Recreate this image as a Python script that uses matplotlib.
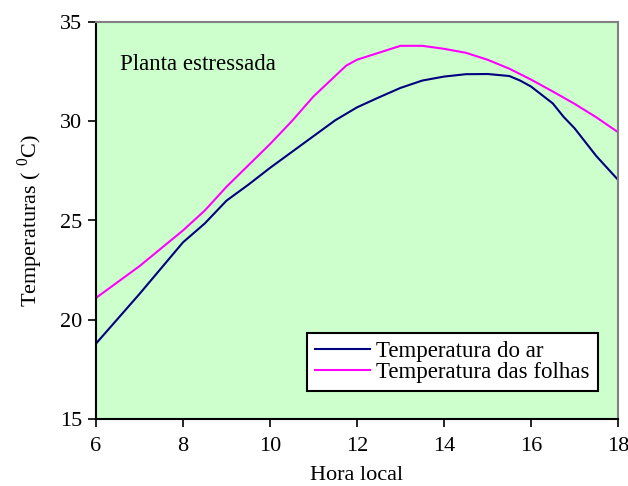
import numpy as np
import matplotlib
matplotlib.use("Agg")
import matplotlib.pyplot as plt

# Dados
hora_ar = [6, 6.5, 7, 7.5, 8, 8.5, 9, 9.5, 10, 10.5, 11, 11.5, 12, 12.5, 13, 13.5,
           14, 14.5, 15, 15.5, 15.75, 16, 16.5, 16.75, 17, 17.5, 18]
temp_ar = [18.8, 20.05, 21.3, 22.6, 23.9, 24.85, 26.0, 26.8, 27.65, 28.45, 29.25, 30.05,
           30.7, 31.2, 31.68, 32.05, 32.25, 32.37, 32.38, 32.28, 32.05, 31.75, 30.9, 30.22,
           29.65, 28.25, 27.05]

hora_folha = [6, 7, 8, 8.5, 9, 10, 10.5, 11, 11.75, 12, 12.5, 13, 13.5, 14, 14.5, 15,
              15.5, 16, 16.5, 17, 17.5, 18]
temp_folha = [21.1, 22.7, 24.5, 25.5, 26.7, 28.85, 30.0, 31.25, 32.8, 33.1, 33.45, 33.8,
              33.8, 33.65, 33.45, 33.1, 32.65, 32.1, 31.5, 30.88, 30.2, 29.45]

plt.rcParams["font.family"] = ["Liberation Serif", "DejaVu Serif"]
plt.rcParams["mathtext.fontset"] = "custom"
plt.rcParams["mathtext.rm"] = "Liberation Serif"
plt.rcParams["font.size"] = 16

fig = plt.figure(figsize=(6.28, 4.86), dpi=100)
ax = fig.add_axes([96 / 628, 1 - 419 / 486, 522 / 628, 397 / 486])
ax.set_facecolor("#ccffcc")

ax.plot(hora_ar, temp_ar, color="#000080", linewidth=1.5, label="Temperatura do ar")
ax.plot(hora_folha, temp_folha, color="#ff00ff", linewidth=1.5, label="Temperatura das folhas")

ax.set_xlim(6, 18)
ax.set_ylim(15, 35)
ax.set_xticks(range(6, 19, 2))
ax.set_yticks(range(15, 36, 5))
ax.tick_params(direction="out", length=6, width=1.2, color="black", pad=7)
ax.tick_params(axis="y", pad=4)

for s in ["left", "bottom"]:
    ax.spines[s].set_color("black")
    ax.spines[s].set_linewidth(1.5)
for s in ["top", "right"]:
    ax.spines[s].set_color("#808080")
    ax.spines[s].set_linewidth(1.5)

ax.set_xlabel("Hora local", labelpad=7)
ax.set_ylabel("Temperaturas ( $^{0}$C)", labelpad=11)

ax.text(6.55, 32.58, "Planta estressada", va="baseline", ha="left", fontsize=16.5)

leg = ax.legend(loc="lower right", bbox_to_anchor=(0.9617, 0.0705), borderaxespad=0,
                fancybox=False, framealpha=1, edgecolor="black", handlelength=2.4,
                handletextpad=0.3, labelspacing=0.0, borderpad=0.35, prop={"size": 16.5})
leg.get_frame().set_linewidth(1.5)

fig.savefig("out.png", dpi=100)
